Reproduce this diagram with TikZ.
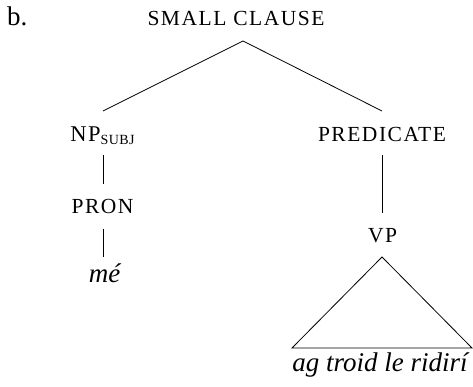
\documentclass[tikz,border=0pt]{standalone}
\usepackage{fontspec}
\setmainfont{Liberation Serif}
\newfontfamily\scfont[LetterSpace=7]{Liberation Serif}
\begin{document}
\begin{tikzpicture}[x=1pt,y=1pt,
  lbl/.style={inner sep=0pt,anchor=base,font=\fontsize{27}{32}\selectfont},
  sc/.style={lbl,font=\scfont\fontsize{21.5}{24}\selectfont},
  edge/.style={line width=0.8pt}]
\useasboundingbox (0,0) rectangle (473,387);
\node[lbl,anchor=base west] (b) at (7,361) {b.};
\node[sc] (sc) at (236,361) {SMALL CLAUSE};
\node[sc] (np) at (102.5,245) {{\fontsize{22.5}{24}\selectfont NP}\raisebox{-2.5pt}{\fontsize{14}{15}\selectfont\addfontfeatures{LetterSpace=3}SUBJ}};
\node[sc] (pred) at (382,245) {PREDICATE};
\node[sc] (pron) at (102.5,173) {PRON};
\node[lbl] (me) at (105,104) {\textit{mé}};
\node[sc] (vp) at (382.5,144) {VP};
\node[lbl] (ag) at (381,15) {\textit{ag troid le ridirí}};
\draw[edge] ([shift={(7,-15)}]sc.base) -- ([shift={(0.5,31)}]np.base);
\draw[edge] ([shift={(7,-15)}]sc.base) -- ([shift={(0,31)}]pred.base);
\draw[edge] ([shift={(0.5,-13)}]np.base) -- ([shift={(0.5,30)}]pron.base);
\draw[edge] ([shift={(0.5,-15)}]pron.base) -- ([shift={(-2,26)}]me.base);
\draw[edge] ([yshift=-13]pred.base) -- ([shift={(-0.5,30)}]vp.base);
\draw[edge,line join=miter] ([shift={(-0.5,-14)}]vp.base) -- ([shift={(-89,24)}]ag.base) -- ([shift={(91,24)}]ag.base) -- cycle;
\end{tikzpicture}
\end{document}
